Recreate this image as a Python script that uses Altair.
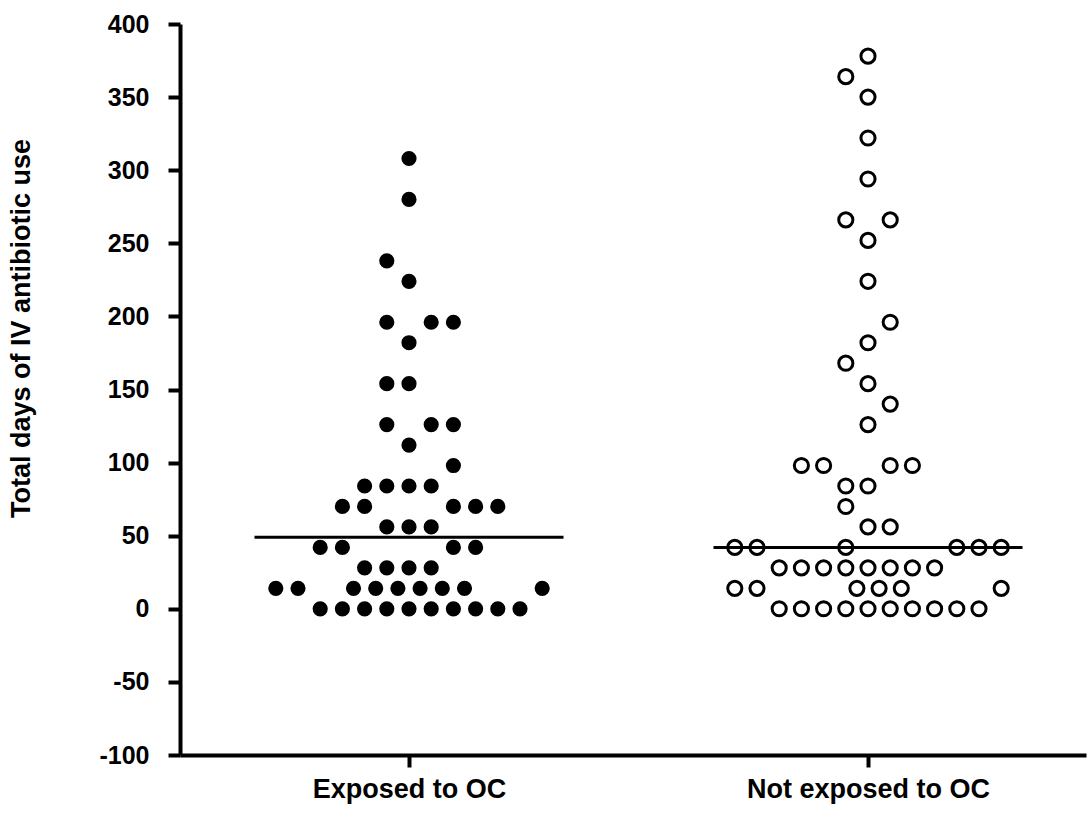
import altair as alt
import numpy as np
import pandas as pd

# ---- data (days of IV antibiotic use) ----
group_names = ["Exposed to OC", "Not exposed to OC"]

exposed_days = [308, 280, 238, 224, 196, 196, 196, 182, 154, 154,
                126, 126, 126, 112, 98, 84, 84, 84, 84,
                70, 70, 70, 70, 70, 56, 56, 56, 42, 42, 42, 42,
                28, 28, 28, 28,
                14, 14, 14, 14, 14, 14, 14, 14, 14,
                0, 0, 0, 0, 0, 0, 0, 0, 0, 0]
# swarm column of each dot (in dot widths from the group centre)
exposed_col = [0, 0, -1, 0, -1, 1, 2, 0, -1, 0,
               -1, 1, 2, 0, 2, -2, -1, 0, 1,
               -3, -2, 2, 3, 4, -1, 0, 1, -4, -3, 2, 3,
               -2, -1, 0, 1,
               -6, -5, -2.5, -1.5, -0.5, 0.5, 1.5, 2.5, 6,
               -4, -3, -2, -1, 0, 1, 2, 3, 4, 5]

not_exposed_days = [378, 364, 350, 322, 294, 266, 266, 252, 224, 196,
                    182, 168, 154, 140, 126, 98, 98, 98, 98, 84, 84,
                    70, 56, 56,
                    42, 42, 42, 42, 42, 42,
                    28, 28, 28, 28, 28, 28, 28, 28,
                    14, 14, 14, 14, 14, 14,
                    0, 0, 0, 0, 0, 0, 0, 0, 0, 0]
not_exposed_col = [0, -1, 0, 0, 0, -1, 1, 0, 0, 1,
                   0, -1, 0, 1, 0, -3, -2, 1, 2, -1, 0,
                   -1, 0, 1,
                   -6, -5, -1, 4, 5, 6,
                   -4, -3, -2, -1, 0, 1, 2, 3,
                   -6, -5, -0.5, 0.5, 1.5, 6,
                   -4, -3, -2, -1, 0, 1, 2, 3, 4, 5]

y_ticks = [-100, -50, 0, 50, 100, 150, 200, 250, 300, 350, 400]

# ---- layout constants ----
PLOT_W = 906
PLOT_H = 731
CENTERS = [229, 688]      # group centres on the x scale (px units)
DOT_STEP = 22.2           # swarm column width
MEDIAN_HALF = 154.5       # half length of the median bar

FONT = "Liberation Sans"

rows = []
for g, (days, cols) in enumerate([(exposed_days, exposed_col),
                                  (not_exposed_days, not_exposed_col)]):
    for d, c in zip(days, cols):
        rows.append({"group": group_names[g], "days": d,
                     "xpos": CENTERS[g] + c * DOT_STEP})
df = pd.DataFrame(rows)

med = pd.DataFrame({
    "group": group_names,
    "median": [float(np.median(exposed_days)), float(np.median(not_exposed_days))],
    "x1": [c - MEDIAN_HALF for c in CENTERS],
    "x2": [c + MEDIAN_HALF for c in CENTERS],
})

x_scale = alt.Scale(domain=[0, PLOT_W], nice=False, zero=False)
y_scale = alt.Scale(domain=[-100, 400], nice=False, zero=False)

x_axis = alt.Axis(
    values=CENTERS, title=None, grid=False,
    labelExpr="datum.value < 450 ? 'Exposed to OC' : 'Not exposed to OC'",
    labelFont=FONT, labelFontSize=27, labelFontWeight="bold", labelColor="black",
    labelPadding=9, labelFlush=False, labelOverlap=False, labelLimit=600,
    domainColor="black", domainWidth=4, tickColor="black", tickWidth=4, tickSize=12,
)
y_axis = alt.Axis(
    values=y_ticks, title="Total days of IV antibiotic use", grid=False,
    labelExpr="'' + datum.value",
    labelFont=FONT, labelFontSize=25, labelFontWeight="bold", labelColor="black",
    labelPadding=19, labelFlush=False, labelOverlap=False, labelLimit=300,
    domainColor="black", domainWidth=4, tickColor="black", tickWidth=4, tickSize=12,
    titleFont=FONT, titleFontSize=27, titleFontWeight="bold", titleColor="black",
    titleAngle=-90, titleX=-159, titleY=304, titleAlign="center", titleBaseline="middle",
)

base = alt.Chart(df)

filled = base.transform_filter(alt.datum.group == group_names[0]).mark_point(
    shape="circle", filled=True, color="black", size=230, opacity=1
).encode(
    x=alt.X("xpos:Q", scale=x_scale, axis=x_axis),
    y=alt.Y("days:Q", scale=y_scale, axis=y_axis),
)

hollow = base.transform_filter(alt.datum.group == group_names[1]).mark_point(
    shape="circle", filled=False, stroke="black", strokeWidth=3, size=200, opacity=1
).encode(
    x=alt.X("xpos:Q", scale=x_scale),
    y=alt.Y("days:Q", scale=y_scale),
)

median_bar = alt.Chart(med).mark_rule(color="black", strokeWidth=3).encode(
    x=alt.X("x1:Q", scale=x_scale),
    x2="x2:Q",
    y=alt.Y("median:Q", scale=y_scale),
)

chart = alt.layer(median_bar, filled, hollow).properties(
    width=PLOT_W, height=PLOT_H,
    autosize=alt.AutoSizeParams(type="none"),
    padding={"left": 180, "top": 24, "right": 2, "bottom": 59},
    background="white",
).configure_view(stroke=None)

chart.save("out.html", embed_options={"renderer": "svg", "actions": False})
